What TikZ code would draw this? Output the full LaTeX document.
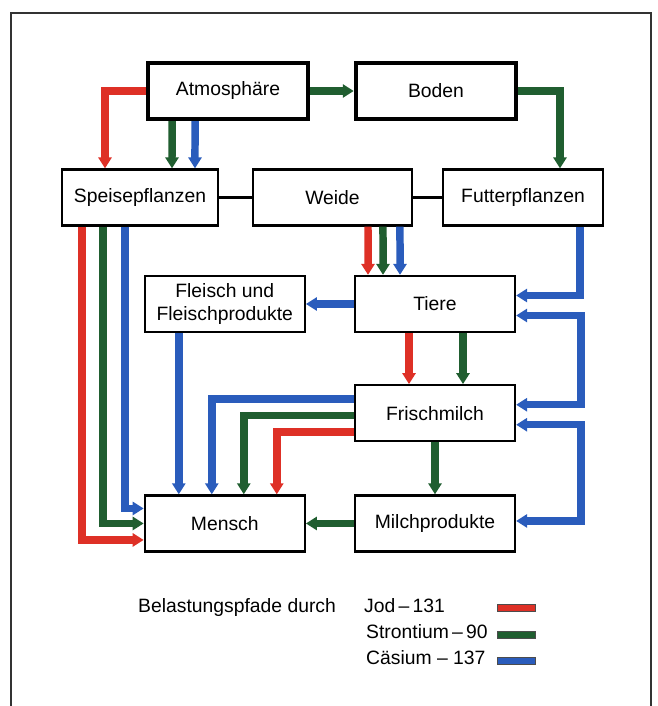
\documentclass[tikz,border=0pt]{standalone}
\usepackage{fontspec}
\setmainfont{Liberation Sans}
\usetikzlibrary{arrows.meta,positioning}
\definecolor{jodred}{RGB}{222,48,38}
\definecolor{srgreen}{RGB}{32,94,48}
\definecolor{csblue}{RGB}{42,92,188}

\begin{document}
\begin{tikzpicture}[x=0.02cm, y=-0.02cm,
  node distance=1.02cm and 0.96cm,
  lbl/.style={font=\fontsize{11}{13}\selectfont},
  box/.style={lbl, draw, line width=0.45mm, align=center, inner sep=0pt, minimum width=3.2cm, minimum height=1.12cm, fill=white},
  bigbox/.style={box, line width=0.9mm},
  flow/.style={line width=1.5mm, -{Triangle[length=2.2mm,width=2.6mm]}},
  twoway/.style={line width=1.5mm, {Triangle[length=2.2mm,width=2.6mm]}-{Triangle[length=2.2mm,width=2.6mm]}},
  jod/.style={flow, draw=jodred},
  sr/.style={flow, draw=srgreen},
  cs/.style={flow, draw=csblue},
  swatch/.style={draw=black!70, line width=0.3pt, minimum width=0.76cm, minimum height=0.14cm, inner sep=0pt}]
\useasboundingbox (0,0) rectangle (658,706);
\draw[line width=0.3mm, black!80] (11,706) |- (651,13) -- (651,706);

% Kaesten
\node[bigbox] (atmo) at (228,91) {Atmosphäre};
\node[bigbox] (boden) at (436,91) {Boden};
\node[box, minimum width=3.12cm] (speise) at (140,197.5) {Speisepflanzen};
\node[box, minimum width=3.18cm] (weide) at (332.5,197.5) {Weide};
\node[box] (futter) at (523,197.5) {Futterpflanzen};
\node[box] (tiere) at (435,304) {Tiere};
\node[box, left=of tiere] (fleisch) {Fleisch und\\Fleischprodukte};
\node[box, below=of tiere] (frisch) {Frischmilch};
\node[box, below=1.04cm of frisch] (milch) {Milchprodukte};
\node[box, left=of milch] (mensch) {Mensch};

\draw[line width=0.45mm] (speise) -- (weide);
\draw[line width=0.45mm] (weide) -- (futter);

% Pfade
\draw[jod] (atmo.west) -| ([xshift=-0.7cm]speise.north);
\draw[sr] ([xshift=-1.12cm]atmo.south) -- ([xshift=0.64cm]speise.north);
\draw[cs] ([xshift=-0.66cm]atmo.south) -- ([xshift=1.1cm]speise.north);
\draw[sr] (atmo) -- (boden);
\draw[sr] (boden.east) -| ([xshift=0.74cm]futter.north);

\draw[jod] ([xshift=-1.16cm]speise.south) |- ([yshift=-0.33cm]mensch.west);
\draw[sr] ([xshift=-0.74cm]speise.south) |- (mensch.west);
\draw[cs] ([xshift=-0.3cm]speise.south) |- ([yshift=0.3cm]mensch.west);

\draw[jod] ([xshift=0.71cm]weide.south) -- ([xshift=-1.34cm]tiere.north);
\draw[sr] ([xshift=1.01cm]weide.south) -- ([xshift=-1.04cm]tiere.north);
\draw[cs] ([xshift=1.35cm]weide.south) -- ([xshift=-0.7cm]tiere.north);

\draw[cs] ([xshift=1.14cm]futter.south) |- ([yshift=0.17cm]tiere.east);
\draw[twoway, draw=csblue] ([yshift=-0.23cm]tiere.east) -- ++(1.3cm,0) |- ([yshift=0.17cm]frisch.east);
\draw[twoway, draw=csblue] ([yshift=-0.23cm]frisch.east) -- ++(1.3cm,0) |- ([yshift=0.05cm]milch.east);

\draw[cs] (tiere) -- (fleisch);
\draw[cs] ([xshift=-0.92cm]fleisch.south) -- ([xshift=-0.92cm]mensch.north);
\draw[jod] ([xshift=-0.52cm]tiere.south) -- ([xshift=-0.52cm]frisch.north);
\draw[sr] ([xshift=0.56cm]tiere.south) -- ([xshift=0.56cm]frisch.north);

\draw[cs] ([yshift=0.28cm]frisch.west) -| ([xshift=-0.26cm]mensch.north);
\draw[sr] ([yshift=-0.05cm]frisch.west) -| ([xshift=0.38cm]mensch.north);
\draw[jod] ([yshift=-0.38cm]frisch.west) -| ([xshift=1.04cm]mensch.north);
\draw[sr] (frisch) -- (milch);
\draw[sr] (milch) -- (mensch);

% Legende
\node[lbl, anchor=base west] (legtitle) at (132,612) {Belastungspfade durch};
\node[lbl, anchor=base west] (jodtxt) at (358,612) {Jod\,--\,131};
\node[lbl, anchor=base west] (srtxt) at (360,638) {Strontium\,--\,90};
\node[lbl, anchor=base west] (cstxt) at (360,664) {Cäsium -- 137};
\node[swatch, fill=jodred] (jodkey) at (516,608) {};
\node[swatch, fill=srgreen] (srkey) at (516,635) {};
\node[swatch, fill=csblue] (cskey) at (516,661) {};
\end{tikzpicture}
\end{document}
